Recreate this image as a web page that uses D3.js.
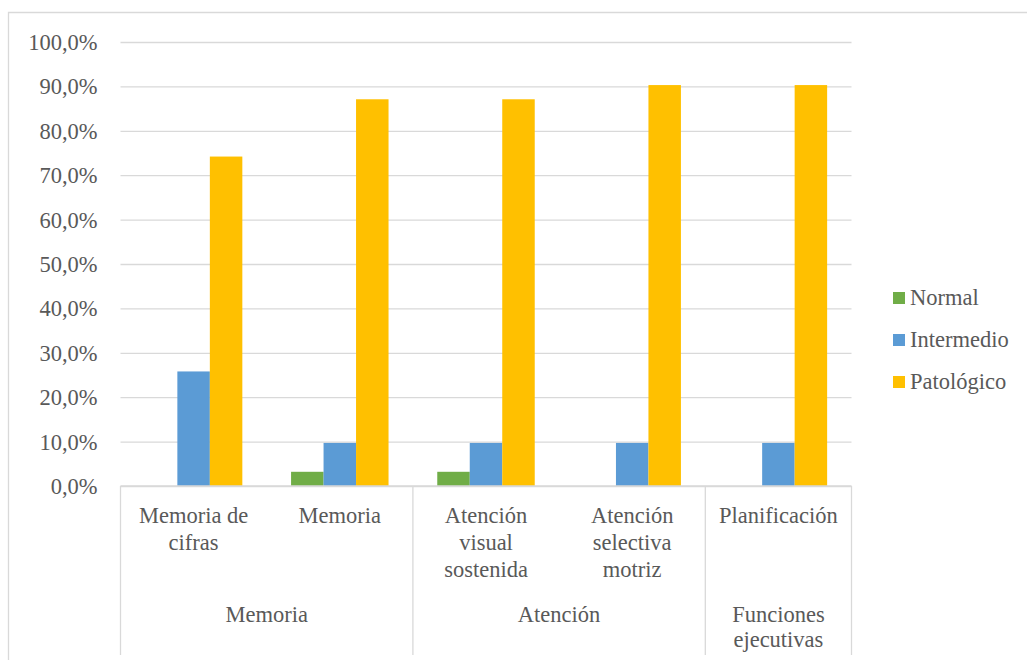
<!DOCTYPE html>
<html>
<head>
<meta charset="utf-8">
<script src="https://cdn.jsdelivr.net/npm/d3@7"></script>
<style>
  html, body { margin: 0; padding: 0; background: #fff; }
  svg text { font-family: "Liberation Serif", Tinos, "Times New Roman", "DejaVu Serif", "Noto Serif", serif; fill: #595959; }
</style>
</head>
<body>
<svg id="chart" width="1027" height="660"></svg>
<script>
// Subtests and their displayed (wrapped) labels
const categories = ["Memoria de cifras", "Memoria", "Atención visual sostenida", "Atención selectiva motriz", "Planificación"];
const categoryLines = [["Memoria de", "cifras"], ["Memoria"], ["Atención", "visual", "sostenida"], ["Atención", "selectiva", "motriz"], ["Planificación"]];

// Domains grouping the subtests
const groupNames = [["Memoria"], ["Atención"], ["Funciones", "ejecutivas"]];
const groupStart = [0, 2, 4];
const groupSize = [2, 2, 1];

// Percentages per performance level
const seriesNames = ["Normal", "Intermedio", "Patológico"];
const normal = [0, 3.2, 3.2, 0, 0];
const intermedio = [25.8, 9.7, 9.7, 9.7, 9.7];
const patologico = [74.2, 87.1, 87.1, 90.3, 90.3];
const yTicks = [0, 10, 20, 30, 40, 50, 60, 70, 80, 90, 100];

const colors = ["#70AD47", "#5B9BD5", "#FFC000"];
const gridColor = "#D9D9D9";
const fontSize = 22.5;
const fontFamily = '"Liberation Serif", Tinos, "Times New Roman", "DejaVu Serif", "Noto Serif", serif';

const svg = d3.select("#chart");

// Outer chart frame (left and top edges)
svg.append("path")
  .attr("d", "M8.5,660 V12.5 H1027")
  .attr("fill", "none")
  .attr("stroke", gridColor)
  .attr("stroke-width", 1.3);

const plotLeft = 120.5, plotRight = 851.5, plotTop = 42, plotBottom = 486;

const x0 = d3.scaleBand().domain(categories).range([plotLeft, plotRight]).paddingInner(0).paddingOuter(0);
const x1 = d3.scaleBand().domain(seriesNames).range([0, x0.bandwidth()]).paddingInner(0).paddingOuter(0.75);
const y = d3.scaleLinear().domain([0, 100]).range([plotBottom, plotTop]);

const fmt = d3.formatLocale({ decimal: ",", thousands: ".", grouping: [3], currency: ["", "€"] }).format(".1f");

// Y axis with gridlines
const yAxis = svg.append("g")
  .attr("transform", `translate(${plotLeft},0)`)
  .call(d3.axisLeft(y)
    .tickValues(yTicks)
    .tickSize(-(plotRight - plotLeft))
    .tickPadding(23)
    .tickFormat(d => fmt(d) + "%"));
yAxis.attr("font-family", null);
yAxis.select(".domain").remove();
yAxis.selectAll(".tick line").attr("stroke", gridColor).attr("stroke-width", 1.3);
yAxis.selectAll(".tick text")
  .attr("font-size", fontSize)
  .attr("font-family", fontFamily)
  .attr("fill", "#595959")
  .attr("dy", "0.33em");

// Bars
const series = [normal, intermedio, patologico];
const rows = categories.map((c, i) => ({ cat: c, vals: seriesNames.map((s, k) => ({ s, v: series[k][i], k })) }));

const groups = svg.append("g").selectAll("g")
  .data(rows)
  .join("g")
  .attr("transform", d => `translate(${x0(d.cat)},0)`);

groups.selectAll("rect")
  .data(d => d.vals)
  .join("rect")
  .attr("x", d => x1(d.s))
  .attr("width", x1.bandwidth())
  .attr("y", d => y(d.v))
  .attr("height", d => y(0) - y(d.v))
  .attr("fill", d => colors[d.k]);

// Baseline
svg.append("line")
  .attr("x1", plotLeft).attr("x2", plotRight)
  .attr("y1", y(0)).attr("y2", y(0))
  .attr("stroke", gridColor).attr("stroke-width", 1.3);

// Category axis: separators between domains
const bounds = groupStart.map(s => x0(categories[s])).concat([plotRight]);
svg.append("g").selectAll("line")
  .data(bounds)
  .join("line")
  .attr("x1", d => d).attr("x2", d => d)
  .attr("y1", y(0)).attr("y2", 655)
  .attr("stroke", gridColor).attr("stroke-width", 1.3);

// Subtest labels
const lineH = 27.2;
svg.append("g").selectAll("text")
  .data(categories)
  .join("text")
  .attr("text-anchor", "middle")
  .attr("font-size", fontSize)
  .attr("font-family", fontFamily)
  .attr("x", d => x0(d) + x0.bandwidth() / 2)
  .attr("y", 523)
  .each(function (d, i) {
    const t = d3.select(this);
    categoryLines[i].forEach((ln, j) => {
      t.append("tspan")
        .attr("x", x0(d) + x0.bandwidth() / 2)
        .attr("dy", j === 0 ? 0 : lineH)
        .text(ln);
    });
  });

// Domain labels
svg.append("g").selectAll("text")
  .data(groupNames)
  .join("text")
  .attr("text-anchor", "middle")
  .attr("font-size", fontSize)
  .attr("font-family", fontFamily)
  .attr("y", 622)
  .each(function (lines, i) {
    const cx = (bounds[i] + bounds[i + 1]) / 2;
    const t = d3.select(this);
    lines.forEach((ln, j) => {
      t.append("tspan")
        .attr("x", cx)
        .attr("dy", j === 0 ? 0 : 25)
        .text(ln);
    });
  });

// Legend
const legend = svg.append("g").selectAll("g")
  .data(seriesNames)
  .join("g")
  .attr("transform", (d, i) => `translate(893,${292 + i * 42})`);
legend.append("rect")
  .attr("width", 12).attr("height", 12)
  .attr("fill", (d, i) => colors[i]);
legend.append("text")
  .attr("x", 17)
  .attr("y", 13)
  .attr("font-size", fontSize)
  .attr("font-family", fontFamily)
  .text(d => d);
</script>
</body>
</html>
